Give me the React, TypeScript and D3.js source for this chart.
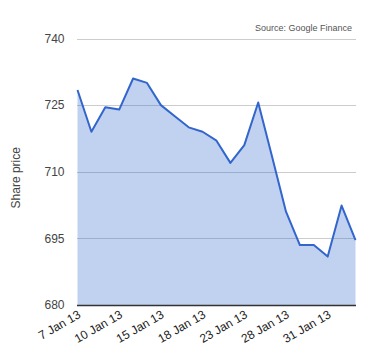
import React, { useEffect, useRef } from "react";
import * as d3 from "d3";

// trading days, Jan 7 2013 - Feb 4 2013
const dates = [
  "7 Jan 13", "8 Jan 13", "9 Jan 13", "10 Jan 13", "11 Jan 13",
  "14 Jan 13", "15 Jan 13", "16 Jan 13", "17 Jan 13", "18 Jan 13",
  "21 Jan 13", "22 Jan 13", "23 Jan 13", "24 Jan 13", "25 Jan 13",
  "28 Jan 13", "29 Jan 13", "30 Jan 13", "31 Jan 13", "1 Feb 13", "4 Feb 13",
];
const prices = [
  728.4, 719.0, 724.5, 724.0, 731.0,
  730.0, 725.0, 722.5, 720.0, 719.0,
  717.0, 712.0, 716.0, 725.6, 713.4,
  701.0, 693.5, 693.5, 690.9, 702.4, 694.6,
];
const yTicks = [680, 695, 710, 725, 740];
const xLabels = ["7 Jan 13", "10 Jan 13", "15 Jan 13", "18 Jan 13", "23 Jan 13", "28 Jan 13", "31 Jan 13"];

const App = () => {
  const svgRef = useRef<SVGSVGElement>(null);

  useEffect(() => {
    const svg = d3.select(svgRef.current);
    svg.selectAll("*").remove();

    const font = "Arial, 'Liberation Sans', sans-serif";
    const left = 77.5, right = 355.5, top = 38.5, bottom = 305;

    const x = d3.scalePoint<string>().domain(dates).range([left, right]);
    const y = d3.scaleLinear().domain([680, 740]).range([bottom, top]);

    // gridlines
    svg
      .append("g")
      .selectAll("line")
      .data(yTicks.filter((t) => t !== 680))
      .enter()
      .append("line")
      .attr("x1", left - 0.5)
      .attr("x2", right + 0.5)
      .attr("y1", (d) => Math.round(y(d)) + 0.5)
      .attr("y2", (d) => Math.round(y(d)) + 0.5)
      .attr("stroke", "#cccccc");

    const area = d3
      .area<number>()
      .x((d, i) => x(dates[i]) as number)
      .y0(y(680))
      .y1((d) => y(d));

    svg
      .append("path")
      .datum(prices)
      .attr("d", area)
      .attr("fill", "#3366cc")
      .attr("fill-opacity", 0.3);

    const line = d3
      .line<number>()
      .x((d, i) => x(dates[i]) as number)
      .y((d) => y(d));

    svg
      .append("path")
      .datum(prices)
      .attr("d", line)
      .attr("fill", "none")
      .attr("stroke", "#3366cc")
      .attr("stroke-width", 2)
      .attr("stroke-linejoin", "round");

    // baseline
    svg
      .append("line")
      .attr("x1", left - 0.5)
      .attr("x2", right + 0.5)
      .attr("y1", y(680) + 0.5)
      .attr("y2", y(680) + 0.5)
      .attr("stroke", "#333333")
      .attr("stroke-width", 1.3);

    // y tick labels
    svg
      .append("g")
      .selectAll("text")
      .data(yTicks)
      .enter()
      .append("text")
      .attr("x", 64.5)
      .attr("y", (d) => y(d))
      .attr("dy", "0.36em")
      .attr("text-anchor", "end")
      .style("font-family", font)
      .style("font-size", "12px")
      .style("fill", "#444444")
      .text((d) => d);

    // x tick labels
    svg
      .append("g")
      .selectAll("text")
      .data(xLabels)
      .enter()
      .append("text")
      .attr("transform", (d) => `translate(${(x(d) as number) + 4},${bottom + 12}) rotate(-30)`)
      .attr("text-anchor", "end")
      .style("font-family", font)
      .style("font-size", "12px")
      .style("fill", "#222222")
      .text((d) => d);

    svg
      .append("text")
      .attr("transform", `translate(20,${(top + bottom) / 2 + 6}) rotate(-90)`)
      .attr("text-anchor", "middle")
      .style("font-family", font)
      .style("font-size", "12px")
      .style("fill", "#444444")
      .text("Share price");

    svg
      .append("text")
      .attr("x", 352)
      .attr("y", 31)
      .attr("text-anchor", "end")
      .style("font-family", font)
      .style("font-size", "9px")
      .style("fill", "#555555")
      .text("Source: Google Finance");
  }, []);

  return (
    <svg
      ref={svgRef}
      width={380}
      height={360}
      style={{ position: "absolute", left: 0, top: 0, background: "#fff" }}
    ></svg>
  );
};

export default App;
